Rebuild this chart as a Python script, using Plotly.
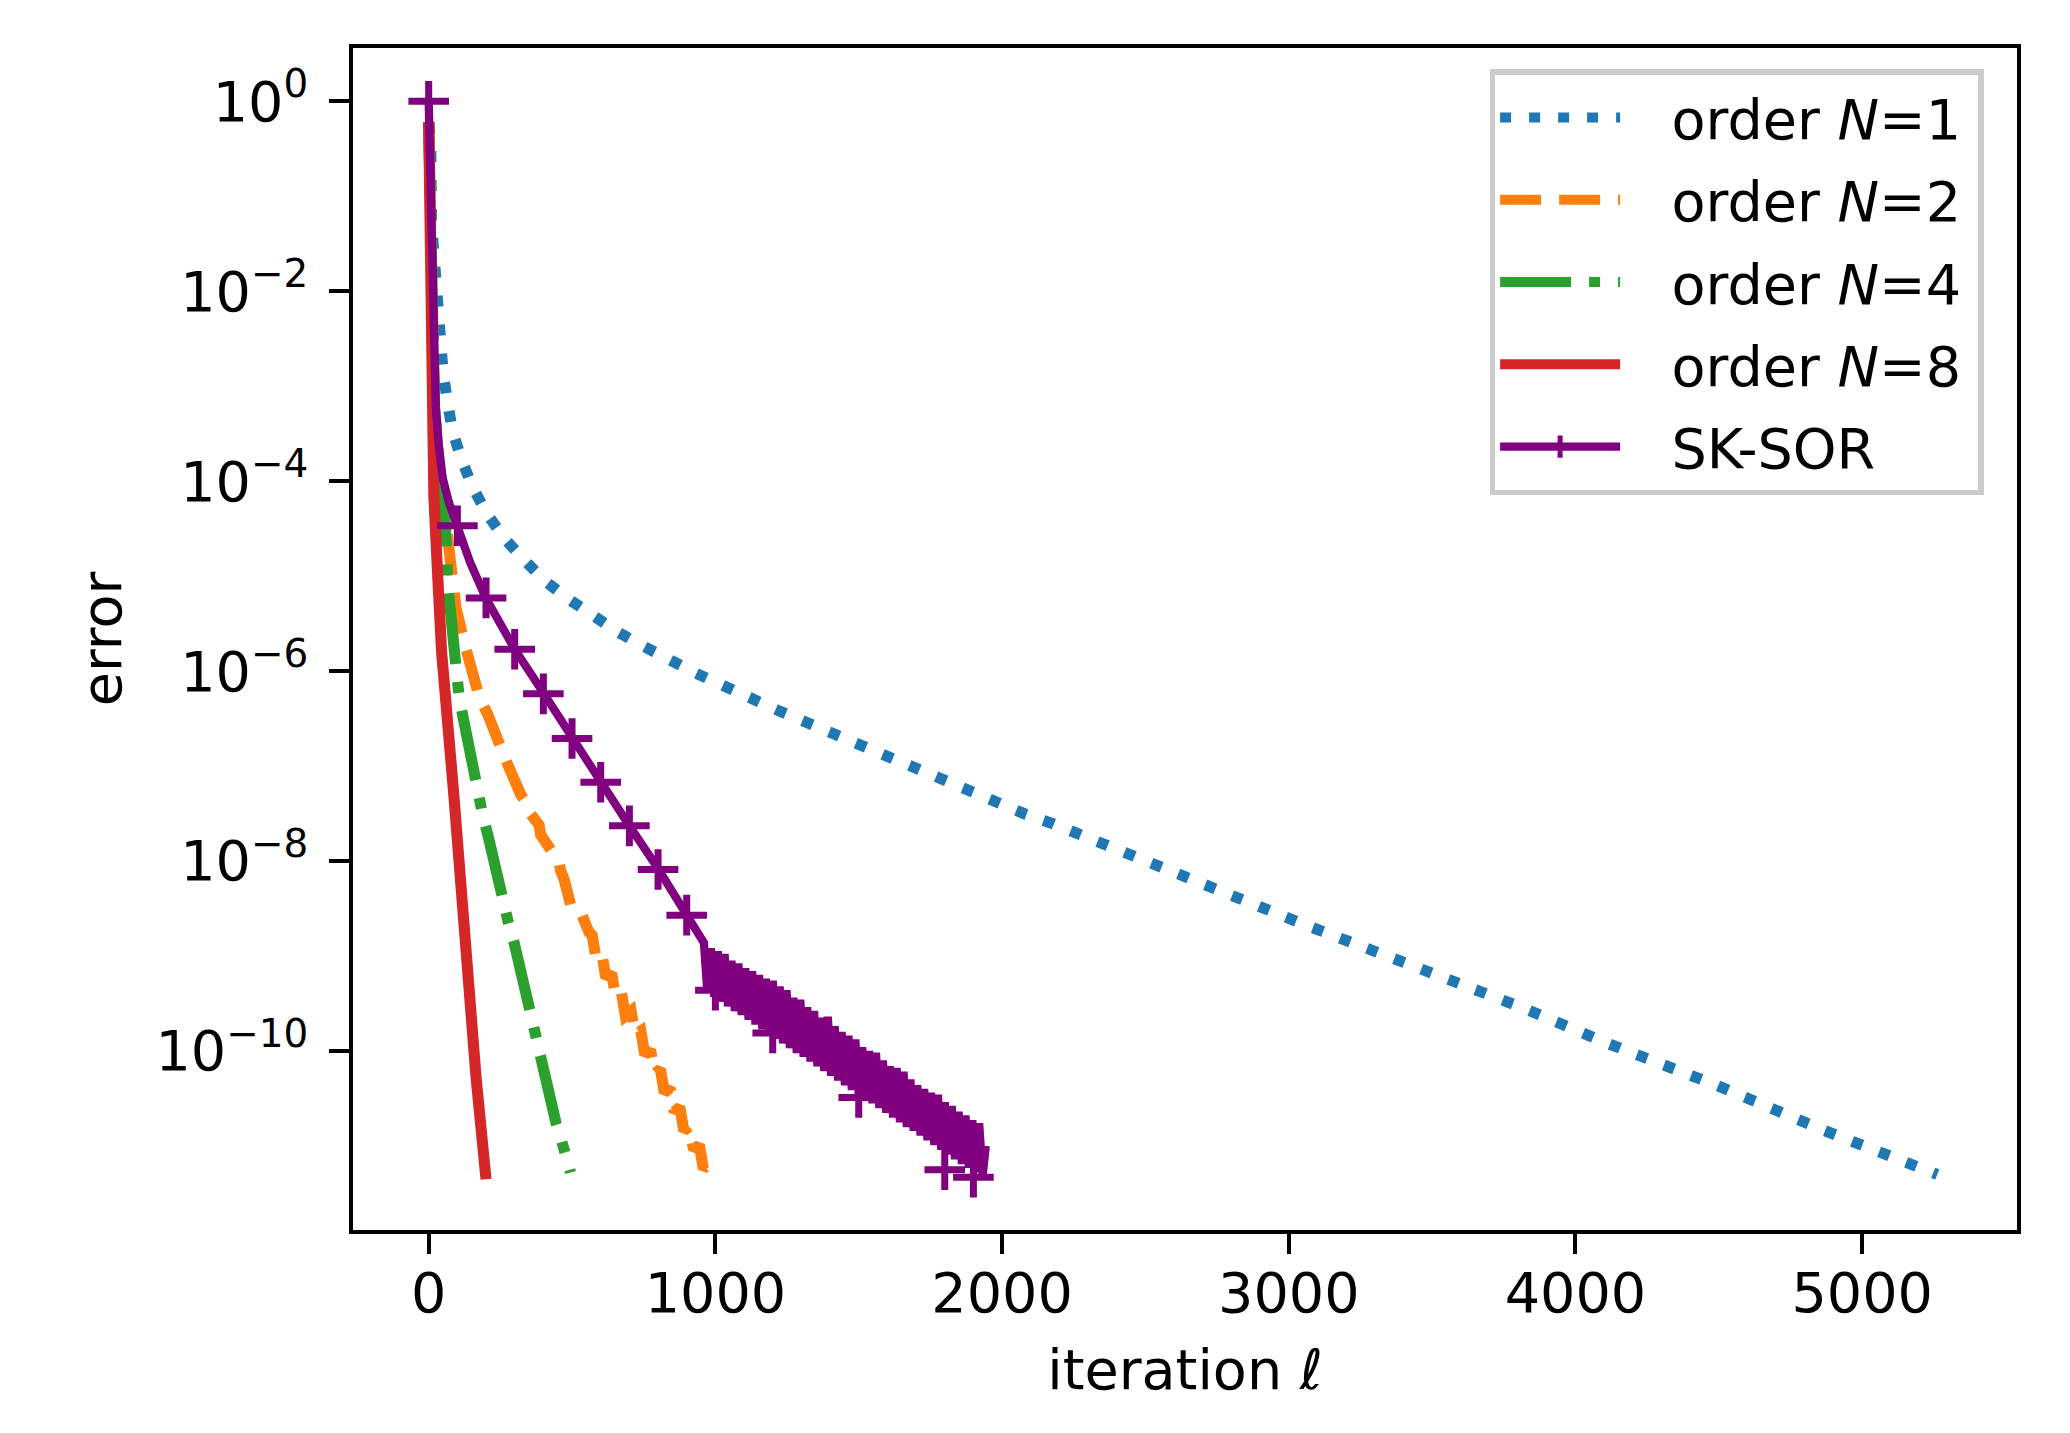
import plotly.graph_objects as go

# ---------------- data (error values stored as log10 exponents) ----------------
n1_x = [0, 7, 10, 16, 22, 30, 38, 50, 65, 83, 114, 153, 202, 263, 333, 405, 487, 572,
        660, 750, 842, 930, 1215, 1507, 1791, 2084, 2180, 2279, 3047, 3820, 4112, 4491,
        4870, 5262]
n1_log = [-0.22, -0.42, -1.29, -1.59, -1.93, -2.23, -2.53, -2.85, -3.16, -3.47, -3.77,
          -4.06, -4.34, -4.60, -4.83, -5.05, -5.24, -5.42, -5.59, -5.74, -5.88, -6.02,
          -6.41, -6.78, -7.15, -7.51, -7.61, -7.73, -8.66, -9.55, -9.92, -10.36, -10.84,
          -11.30]

n2_x = [0, 5, 10, 20, 35, 55, 72, 80, 95, 124, 141, 176, 205, 246, 260, 275, 321, 335,
        344, 385, 390, 408, 454, 460, 472, 500, 535, 559, 570, 584, 604, 618, 638, 652,
        672, 686, 706, 720, 740, 754, 774, 788, 808, 822, 842, 856, 876, 890, 910, 924,
        944, 958, 978, 993]
n2_log = [-0.22, -1.5, -2.4, -3.2, -3.8, -4.3, -4.72, -5.07, -5.33, -5.70, -5.90, -6.27,
          -6.45, -6.79, -6.84, -6.98, -7.30, -7.36, -7.46, -7.62, -7.72, -7.80, -8.01,
          -8.10, -8.19, -8.52, -8.57, -8.75, -8.78, -9.03, -8.98, -9.23, -9.18, -9.43,
          -9.38, -9.63, -9.58, -9.83, -9.79, -10.04, -9.99, -10.24, -10.19, -10.44,
          -10.39, -10.64, -10.59, -10.84, -10.79, -11.04, -10.99, -11.24, -11.19, -11.31]

n4_x = [0, 5, 10, 20, 35, 55, 66, 72, 95, 107, 124, 167, 188, 209, 255, 278, 298, 344,
        362, 379, 425, 445, 463, 495]
n4_log = [-0.22, -1.5, -2.4, -3.2, -3.8, -4.2, -5.07, -5.33, -5.95, -6.29, -6.57, -7.24,
          -7.51, -7.76, -8.42, -8.65, -8.86, -9.50, -9.69, -9.97, -10.49, -10.77, -10.94,
          -11.28]

n8_x = [0, 7, 12, 18, 32, 45, 87, 124, 165, 200]
n8_log = [-0.22, -2.42, -3.29, -4.16, -5.03, -5.80, -7.28, -8.77, -10.27, -11.35]

sk_x = [0, 2, 6, 9, 17, 25, 35, 49, 70, 101, 145, 199, 300, 402, 500, 601, 700, 802,
        903, 952,
        960, 972, 984, 996, 1008, 1020, 1032, 1044, 1056, 1068, 1080, 1092, 1104, 1116,
        1128, 1140, 1152, 1164, 1176, 1188, 1200, 1212, 1224, 1236, 1248, 1260, 1272,
        1284, 1296, 1308, 1320, 1332, 1344, 1356, 1368, 1380, 1392, 1404, 1416, 1428,
        1440, 1452, 1464, 1476, 1488, 1500, 1512, 1524, 1536, 1548, 1560, 1572, 1584,
        1596, 1608, 1620, 1632, 1644, 1656, 1668, 1680, 1692, 1704, 1716, 1728, 1740,
        1752, 1764, 1776, 1788, 1800, 1812, 1824, 1836, 1848, 1860, 1872, 1884, 1896,
        1908, 1920, 1932, 1943]
sk_log = [0.0, -0.25, -0.84, -1.78, -2.71, -3.23, -3.62, -3.97, -4.22, -4.47, -4.86,
          -5.23, -5.77, -6.24, -6.71, -7.17, -7.63, -8.09, -8.58, -8.81,
          -8.86, -9.38, -8.92, -9.43, -8.95, -9.48, -8.98, -9.53, -9.05, -9.58, -9.08,
          -9.62, -9.13, -9.67, -9.16, -9.72, -9.20, -9.77, -9.24, -9.82, -9.26, -9.87,
          -9.32, -9.92, -9.36, -9.97, -9.44, -10.02, -9.46, -10.06, -9.54, -10.11, -9.58,
          -10.16, -9.65, -10.21, -9.64, -10.26, -9.74, -10.31, -9.80, -10.36, -9.84,
          -10.41, -9.88, -10.45, -9.96, -10.50, -10.00, -10.55, -10.02, -10.60, -10.10,
          -10.65, -10.16, -10.70, -10.18, -10.75, -10.22, -10.80, -10.30, -10.84, -10.36,
          -10.89, -10.40, -10.94, -10.44, -10.99, -10.46, -11.04, -10.54, -11.09, -10.58,
          -11.14, -10.64, -11.19, -10.68, -11.23, -10.73, -11.28, -10.76, -11.32, -11.00]

sk_mark_x = [0, 100, 200, 300, 400, 500, 600, 700, 800, 900, 1000, 1100, 1200, 1300,
             1400, 1500, 1600, 1700, 1800, 1900]
sk_mark_log = [0.0, -4.47, -5.23, -5.77, -6.24, -6.71, -7.17, -7.63, -8.09, -8.57, -9.36,
               -9.38, -9.81, -9.77, -9.97, -10.49, -10.41, -10.62, -11.25, -11.33]

x_ticks = [0, 1000, 2000, 3000, 4000, 5000]
y_tick_vals = [1e0, 1e-2, 1e-4, 1e-6, 1e-8, 1e-10]
y_tick_text = ["10<sup>0</sup>", "10<sup>\u22122</sup>", "10<sup>\u22124</sup>",
               "10<sup>\u22126</sup>", "10<sup>\u22128</sup>", "10<sup>\u221210</sup>"]

labels = ["order <i>N</i>=1", "order <i>N</i>=2", "order <i>N</i>=4",
          "order <i>N</i>=8", "SK-SOR"]
colors = ["#1f77b4", "#ff7f0e", "#2ca02c", "#d62728", "#800080"]


def to_err(logs):
    return [10.0 ** v for v in logs]


def legend_name(label):
    # spacing around the legend text, as in the reference legend box
    return "\u00a0\u00a0\u2009" + label + "\u2009"


FONT = "DejaVu Sans"
FS = 55.6
LW = 11.1

fig = go.Figure()
fig.add_trace(go.Scatter(x=n1_x, y=to_err(n1_log), mode="lines",
                         name=legend_name(labels[0]), legendgroup="g1",
                         line=dict(color=colors[0], width=LW, dash="11px,18px")))
fig.add_trace(go.Scatter(x=n2_x, y=to_err(n2_log), mode="lines",
                         name=legend_name(labels[1]), legendgroup="g2",
                         line=dict(color=colors[1], width=LW, dash="41px,18px")))
fig.add_trace(go.Scatter(x=n4_x, y=to_err(n4_log), mode="lines",
                         name=legend_name(labels[2]), legendgroup="g4",
                         line=dict(color=colors[2], width=LW,
                                   dash="71px,18px,11px,18px")))
fig.add_trace(go.Scatter(x=n8_x, y=to_err(n8_log), mode="lines",
                         name=legend_name(labels[3]), legendgroup="g8",
                         line=dict(color=colors[3], width=LW)))
fig.add_trace(go.Scatter(x=sk_x, y=to_err(sk_log), mode="lines", name=labels[4],
                         showlegend=False, legendgroup="sk",
                         line=dict(color=colors[4], width=8.3)))
fig.add_trace(go.Scatter(x=sk_mark_x, y=to_err(sk_mark_log), mode="markers",
                         name=labels[4], showlegend=False, legendgroup="sk",
                         marker=dict(symbol="cross-thin", size=29, color=colors[4],
                                     line=dict(color=colors[4], width=7))))
fig.add_trace(go.Scatter(x=[None], y=[None], mode="lines+markers",
                         name=legend_name(labels[4]), legendgroup="sk",
                         line=dict(color=colors[4], width=8.3),
                         marker=dict(symbol="cross-thin", size=29, color=colors[4],
                                     line=dict(color=colors[4], width=7))))

axis_common = dict(
    showline=True, linecolor="black", linewidth=4.4, mirror=True,
    ticks="outside", ticklen=19.4, tickwidth=4.4, tickcolor="black",
    showgrid=False, zeroline=False,
    tickfont=dict(family=FONT, size=FS, color="black"),
)

fig.update_layout(
    width=2070, height=1433,
    margin=dict(l=353, r=53, t=48, b=203, autoexpand=False),
    paper_bgcolor="white", plot_bgcolor="white",
    font=dict(family=FONT, size=FS, color="black"),
    showlegend=True,
    legend=dict(x=0.683, y=0.982, xanchor="left", yanchor="top",
                bgcolor="rgba(255,255,255,0.8)", bordercolor="#cccccc",
                borderwidth=5.6, font=dict(family=FONT, size=FS, color="black"),
                itemwidth=120, traceorder="grouped", tracegroupgap=7),
    xaxis=dict(range=[-264, 5540], tickvals=x_ticks, ticklabelstandoff=-8,
               title=dict(text="iteration \u2113", standoff=27,
                          font=dict(family=FONT, size=FS, color="black")),
               **axis_common),
    yaxis=dict(type="log", range=[-11.885, 0.56], tickvals=y_tick_vals,
               ticktext=y_tick_text, ticklabelstandoff=10,
               title=dict(text="error", standoff=17,
                          font=dict(family=FONT, size=FS, color="black")),
               **axis_common),
)

fig.write_html("out.html", config={"displayModeBar": False},
               post_script="document.body.style.margin='0';")
